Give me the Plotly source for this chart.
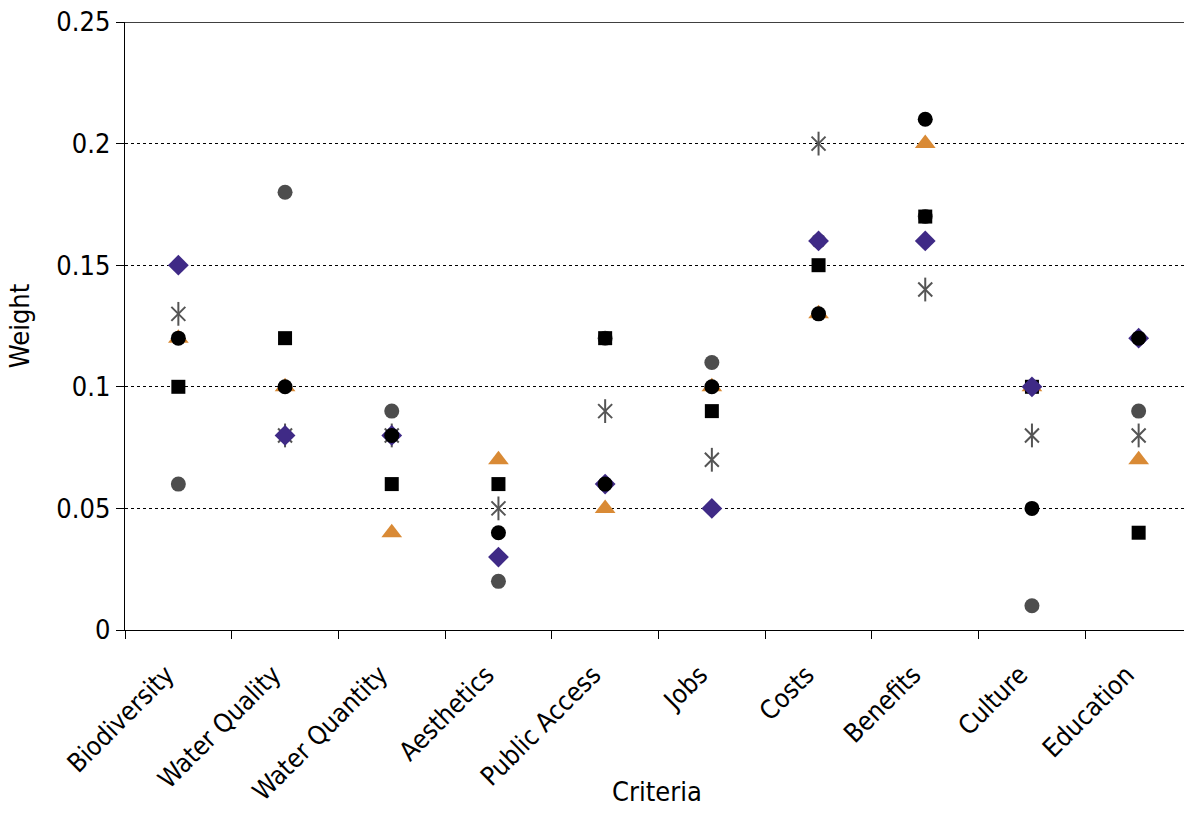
import plotly.graph_objects as go

categories = ["Biodiversity", "Water Quality", "Water Quantity", "Aesthetics", "Public Access",
              "Jobs", "Costs", "Benefits", "Culture", "Education"]

gray_circle = [0.06, 0.18, 0.09, 0.02, 0.12, 0.11, 0.16, 0.17, 0.01, 0.09]
triangle = [0.12, 0.10, 0.04, 0.07, 0.05, 0.10, 0.13, 0.20, 0.10, 0.07]
asterisk = [0.13, 0.08, 0.08, 0.05, 0.09, 0.07, 0.20, 0.14, 0.08, 0.08]
square = [0.10, 0.12, 0.06, 0.06, 0.12, 0.09, 0.15, 0.17, 0.10, 0.04]
diamond = [0.15, 0.08, 0.08, 0.03, 0.06, 0.05, 0.16, 0.16, 0.10, 0.12]
black_circle = [0.12, 0.10, 0.08, 0.04, 0.06, 0.10, 0.13, 0.21, 0.05, 0.12]

y_ticks = [0, 0.05, 0.1, 0.15, 0.2, 0.25]
y_tick_labels = ["0", "0.05", "0.1", "0.15", "0.2", "0.25"]

FONT = "DejaVu Sans Condensed, DejaVu Sans, sans-serif"

fig = go.Figure()
fig.add_trace(go.Scatter(x=categories, y=gray_circle, mode="markers", name="S6",
                         marker=dict(symbol="circle", size=15, color="#4d4d4d")))
fig.add_trace(go.Scatter(x=categories, y=triangle, mode="markers", name="S4",
                         marker=dict(symbol="triangle-up", size=18, color="#d98a35")))
# asterisk drawn as an X plus a vertical bar (6-armed star)
fig.add_trace(go.Scatter(x=categories, y=asterisk, mode="markers", name="S2",
                         marker=dict(symbol="x-thin-open", size=14, color="#555555",
                                     line=dict(color="#555555", width=2))))
fig.add_trace(go.Scatter(x=categories, y=asterisk, mode="markers", name="S2b",
                         marker=dict(symbol="line-ns-open", size=17, color="#555555",
                                     line=dict(color="#555555", width=2))))
fig.add_trace(go.Scatter(x=categories, y=square, mode="markers", name="S5",
                         marker=dict(symbol="square", size=14, color="#000000")))
fig.add_trace(go.Scatter(x=categories, y=diamond, mode="markers", name="S1",
                         marker=dict(symbol="diamond", size=16, color="#3f2a86")))
fig.add_trace(go.Scatter(x=categories, y=black_circle, mode="markers", name="S3",
                         marker=dict(symbol="circle", size=15, color="#000000")))

fig.add_shape(type="line", xref="paper", yref="y", x0=0, x1=1, y0=0.25, y1=0.25,
              line=dict(color="#000000", width=1.3))

fig.add_annotation(text="Criteria", xref="paper", yref="paper", x=0.502, y=-0.266,
                   xanchor="center", yanchor="middle", showarrow=False,
                   font=dict(family=FONT, size=27, color="#000000"))

fig.update_layout(
    width=1184, height=816,
    margin=dict(l=125, r=0, t=22, b=186),
    paper_bgcolor="white", plot_bgcolor="white",
    showlegend=False,
    font=dict(family=FONT, size=27, color="#000000"),
    xaxis=dict(
        type="category", categoryorder="array", categoryarray=categories,
        range=[-0.5, 9.425], automargin=False,
        tickson="boundaries", ticks="outside", ticklen=8, tickcolor="#000",
        showline=True, linecolor="#000", linewidth=1.3,
        showgrid=False, tickangle=-45, ticklabelstandoff=18, ticklabelshift=-12,
        tickfont=dict(family=FONT, size=26),
    ),
    yaxis=dict(
        range=[0, 0.25], tickvals=y_ticks, ticktext=y_tick_labels,
        automargin=False,
        ticks="outside", ticklen=8, tickcolor="#000",
        showline=True, linecolor="#000", linewidth=1.3,
        showgrid=True, gridcolor="#000", griddash="dot", gridwidth=1,
        zeroline=False,
        tickfont=dict(family=FONT, size=27),
        title=dict(text="Weight", font=dict(family=FONT, size=27), standoff=18),
    ),
)

fig.write_html("out.html", config={"displayModeBar": False},
               post_script="document.body.style.margin='0';")
